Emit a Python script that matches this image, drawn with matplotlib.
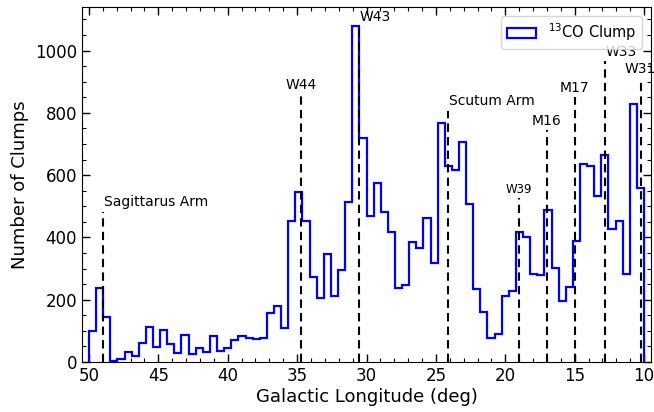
import numpy as np
import matplotlib
matplotlib.use("Agg")
import matplotlib.pyplot as plt

# Number of 13CO clumps per longitude bin, listed from l = 50 deg down to l = 10 deg
l_max, l_min, n_bins = 50.0, 10.0, 78
clump_counts = [101, 239, 146, 3, 9, 33, 20, 60, 113, 47,
                103, 57, 30, 87, 26, 46, 33, 85, 36, 44,
                71, 85, 76, 74, 76, 156, 181, 110, 454, 547,
                453, 274, 205, 346, 212, 296, 513, 1079, 720, 470,
                574, 481, 418, 237, 247, 385, 365, 464, 319, 767,
                630, 617, 706, 507, 233, 162, 76, 89, 212, 227,
                419, 401, 283, 280, 488, 303, 196, 242, 387, 635,
                630, 533, 665, 426, 454, 282, 828, 558]

# Known regions / spiral-arm tangents and the height of their marker lines
region_names = ["Sagittarus Arm", "W44", "W43", "Scutum Arm", "W39",
                "M16", "M17", "W33", "W31"]
region_l = [49.0, 34.7, 30.55, 24.1, 19.0, 17.0, 15.0, 12.8, 10.25]
region_top = [483, 858, 1076, 807, 526, 745, 851, 965, 911]

# label placement: horizontal alignment and font size per marker
label_ha = ["left", "center", "left", "left", "center",
            "center", "center", "left", "center"]
label_size = [10, 10, 10, 10, 8.5, 10, 10, 10, 10]

edges = np.linspace(l_min, l_max, n_bins + 1)
counts_asc = np.asarray(clump_counts[::-1], dtype=float)
centers = 0.5 * (edges[:-1] + edges[1:])

fig = plt.figure(figsize=(6.54, 4.12), dpi=100)
ax = fig.add_axes([82 / 654, 1 - 362 / 412, (651 - 82) / 654, (362 - 7) / 412])

ax.hist(centers, bins=edges, weights=counts_asc, histtype="step",
        color="#0000ff", linewidth=1.6, label=r"$^{13}$CO Clump")

for name, l, top, ha, fs in zip(region_names, region_l, region_top,
                                label_ha, label_size):
    ax.plot([l, l], [0, top], color="black", linestyle=(0, (4, 2.5)),
            linewidth=1.5, zorder=3)
    dx = 0.05 if ha == "left" else 0.0
    ax.text(l - dx, top + 8, name, ha=ha, va="bottom", fontsize=fs,
            clip_on=False)

ax.set_xlim(50.5, 9.5)
ax.set_ylim(0, 1140)
ax.set_xticks(np.arange(50, 9, -5))
ax.set_xticks(np.arange(50, 9, -1), minor=True)
ax.set_yticks(np.arange(0, 1001, 200))
ax.set_yticks(np.arange(0, 1140, 50), minor=True)

ax.tick_params(which="both", direction="in", top=True, right=True,
               labelsize=12)
ax.tick_params(which="major", length=6, width=1)
ax.tick_params(which="minor", length=3, width=0.8)

ax.set_xlabel("Galactic Longitude (deg)", fontsize=13, labelpad=2)
ax.set_ylabel("Number of Clumps", fontsize=13, labelpad=4)

ax.legend(loc="upper right", fontsize=10.5, frameon=True,
          borderaxespad=0.6, handlelength=2.0)

fig.savefig("out.png", dpi=100)
